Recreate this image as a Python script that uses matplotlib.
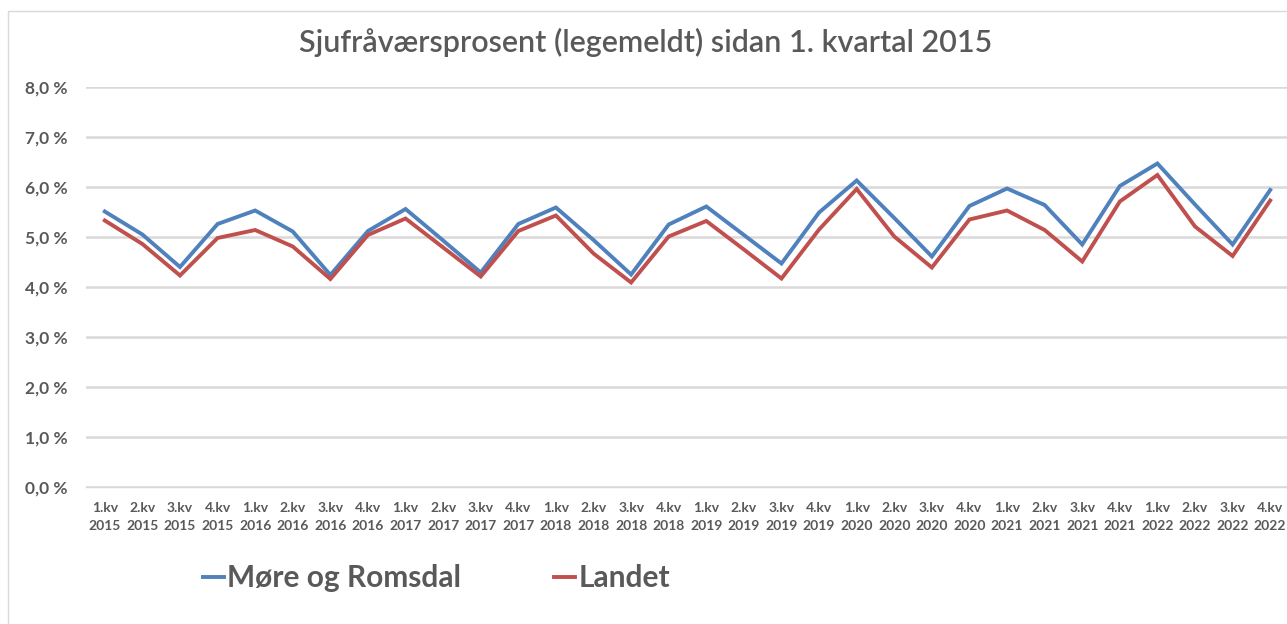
import matplotlib.pyplot as plt
from matplotlib.patches import Rectangle
from matplotlib.ticker import FuncFormatter

plt.rcParams["font.family"] = ["Lato", "DejaVu Sans"]

# quarters 1.kv 2015 .. 4.kv 2022
years = [2015, 2016, 2017, 2018, 2019, 2020, 2021, 2022]
quarters = ["1.kv", "2.kv", "3.kv", "4.kv"]
tick_labels = [f"{q}\n{y}" for y in years for q in quarters]

# sickness absence in percent
more_og_romsdal = [5.51, 5.05, 4.40, 5.26, 5.53, 5.11, 4.24, 5.12,
                   5.56, 4.93, 4.29, 5.26, 5.59, 4.94, 4.25, 5.25,
                   5.61, 5.04, 4.47, 5.49, 6.13, 5.38, 4.61, 5.62,
                   5.97, 5.64, 4.85, 6.02, 6.47, 5.65, 4.85, 5.94]
landet = [5.33, 4.86, 4.23, 4.98, 5.14, 4.81, 4.16, 5.04,
          5.37, 4.79, 4.21, 5.12, 5.43, 4.67, 4.09, 5.01,
          5.32, 4.75, 4.17, 5.15, 5.96, 5.01, 4.39, 5.35,
          5.53, 5.14, 4.51, 5.71, 6.24, 5.21, 4.62, 5.73]

GREY = "#595959"
W, H = 1287, 624

fig = plt.figure(figsize=(W / 100, H / 100), dpi=100)

# chart area border (cut off at right and bottom like the screenshot)
fig.patches.append(Rectangle((8 / W, -0.1), 1.2, 1 - 11 / H + 0.1,
                             transform=fig.transFigure, fill=False,
                             edgecolor="#d9d9d9", linewidth=1))

ax = fig.add_axes([86 / W, (H - 487) / H, 1203 / W, 400 / H])
x = range(len(tick_labels))
ax.plot(x, more_og_romsdal, color="#4f81bd", linewidth=2.8,
        label="Møre og Romsdal", solid_joinstyle="miter")
ax.plot(x, landet, color="#c0504d", linewidth=2.8,
        label="Landet", solid_joinstyle="miter")

ax.set_xlim(-0.5, len(tick_labels) - 0.5)
ax.set_ylim(0, 8)
ax.set_yticks(range(0, 9))
ax.yaxis.set_major_formatter(FuncFormatter(lambda v, p: f"{v:.1f} %".replace(".", ",")))
ax.set_xticks(list(x))
ax.set_xticklabels(tick_labels, fontsize=10, fontweight="bold", color=GREY,
                   linespacing=1.55)
for lab in ax.get_yticklabels():
    lab.set_fontsize(12.5)
    lab.set_fontweight("bold")
    lab.set_color(GREY)

ax.grid(axis="y", color="#d9d9d9", linewidth=1.8)
ax.set_axisbelow(True)
for side in ["top", "right", "left"]:
    ax.spines[side].set_visible(False)
ax.spines["bottom"].set_color("#d9d9d9")
ax.spines["bottom"].set_linewidth(1)
ax.tick_params(axis="both", length=0)
ax.tick_params(axis="y", pad=13)
ax.tick_params(axis="x", pad=11)

fig.text(646 / W, 1 - 42 / H, "Sjufråværsprosent (legemeldt) sidan 1. kvartal 2015",
         ha="center", va="center", fontsize=22, fontweight="semibold", color=GREY)

fig.legend(loc="center left", bbox_to_anchor=(176 / W, 1 - 578 / H), ncol=2,
           frameon=False, handlelength=0.7, handletextpad=0.12,
           columnspacing=3.1, prop={"size": 21.5, "weight": "bold"},
           labelcolor=GREY)

fig.savefig("out.png", dpi=100)
